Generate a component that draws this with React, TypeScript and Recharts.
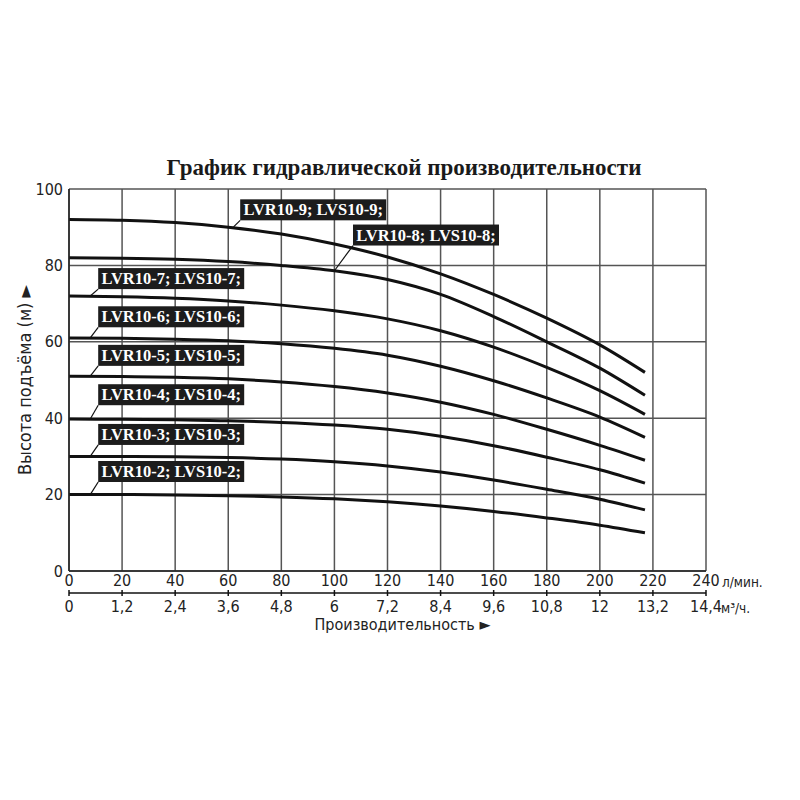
import { LineChart, Line, XAxis, YAxis, CartesianGrid, ReferenceLine, ReferenceDot } from 'recharts';

const SANS = "'Liberation Sans Narrow', 'DejaVu Sans Condensed', 'Liberation Sans', Arial, sans-serif";
const SERIF = "'Liberation Serif', 'DejaVu Serif', 'Times New Roman', serif";

// flow, l/min
const flow = [0, 20, 40, 60, 80, 100, 120, 140, 160, 180, 200, 217];

// head, m
const head9 = [92, 91.8, 91.2, 90, 88.2, 85.6, 82.2, 77.8, 72.4, 66.2, 59.2, 52];
const head8 = [82, 81.9, 81.6, 81.0, 80.0, 78.6, 76.3, 72.4, 66.6, 60.0, 53.1, 46];
const head7 = [72, 71.8, 71.4, 70.7, 69.6, 68.1, 66, 62.9, 58.6, 53.3, 47.2, 41];
const head6 = [61, 60.9, 60.7, 60.3, 59.5, 58.3, 56.5, 53.6, 49.8, 45.3, 40.3, 35];
const head5 = [51, 50.9, 50.7, 50.3, 49.5, 48.3, 46.6, 44.2, 41, 37.1, 32.9, 29];
const head4 = [39.8, 39.7, 39.6, 39.3, 38.9, 38.2, 37.1, 35.3, 32.8, 29.8, 26.5, 23];
const head3 = [30, 30, 29.9, 29.7, 29.3, 28.6, 27.5, 25.9, 23.8, 21.4, 18.8, 16];
const head2 = [20, 20, 19.9, 19.7, 19.4, 18.9, 18.1, 17, 15.6, 13.9, 12, 10];

const models = [
  'LVR10-9; LVS10-9;', 'LVR10-8; LVS10-8;', 'LVR10-7; LVS10-7;', 'LVR10-6; LVS10-6;',
  'LVR10-5; LVS10-5;', 'LVR10-4; LVS10-4;', 'LVR10-3; LVS10-3;', 'LVR10-2; LVS10-2;',
];
const seriesKeys = ['h9', 'h8', 'h7', 'h6', 'h5', 'h4', 'h3', 'h2'];

// tag bottom-left corner and leader start on the curve (data units)
const tagX = [64.5, 107, 11, 11, 11, 11, 11, 11];
const tagY = [91.8, 85.2, 73.8, 63.8, 53.7, 43.4, 33, 23.3];
const leaderX = [62, 100, 8, 8, 8, 8, 8, 8];
const leaderY = [90.1, 78.6, 72, 61, 51, 39.8, 30, 20];

const xTicks = [0, 20, 40, 60, 80, 100, 120, 140, 160, 180, 200, 220, 240];
const yTicks = [0, 20, 40, 60, 80, 100];

const heads = [head9, head8, head7, head6, head5, head4, head3, head2];
const rows = flow.map((q, i) => {
  const r: Record<string, number> = { q };
  seriesKeys.forEach((k, j) => { r[k] = heads[j][i]; });
  return r;
});

const m3 = (v: number) => String(Math.round(v * 0.6) / 10).replace('.', ',');

function LpmTick({ x, y, payload }: any) {
  return (
    <g>
      <text x={x} y={y} dy="0.71em" textAnchor="middle" fontFamily={SANS} fontSize={16} fill="#222">{payload.value}</text>
      {payload.value === 240 && (
        <text x={x + 16} y={y} dy="0.9em" fontFamily={SANS} fontSize={13.5} fill="#222">л/мин.</text>
      )}
    </g>
  );
}

function M3Tick({ x, y, payload }: any) {
  return (
    <g>
      <line x1={x} x2={x} y1={y - 11} y2={y - 5} stroke="#111" strokeWidth={1.5} />
      <text x={x} y={y} dy="0.71em" textAnchor="middle" fontFamily={SANS} fontSize={16} fill="#222">{m3(payload.value)}</text>
      {payload.value === 240 && (
        <text x={x + 15} y={y} dy="0.9em" fontFamily={SANS} fontSize={13.5} fill="#222">м³/ч.</text>
      )}
    </g>
  );
}

function ModelTag({ cx, cy, text }: { cx: number; cy: number; text: string }) {
  return (
    <g>
      <rect x={cx} y={cy - 21} width={146} height={21} fill="#1c1c1c" />
      <text x={cx + 73} y={cy - 5} textAnchor="middle" fill="#fff" fontFamily={SERIF} fontWeight="bold" fontSize={16.5}>{text}</text>
    </g>
  );
}

export default function App() {
  return (
    <div style={{ position: 'absolute', left: 0, top: 0, width: 800, height: 800, background: '#fff' }}>
      <div style={{ position: 'absolute', top: 154, left: 8, width: 792, textAlign: 'center', fontFamily: SERIF, fontWeight: 'bold', fontSize: 23, lineHeight: '28px', color: '#1a1a1a' }}>
        График гидравлической производительности
      </div>
      <LineChart width={800} height={800} data={rows} margin={{ top: 189, right: 94, bottom: 181, left: 29 }}>
        <CartesianGrid stroke="#555" strokeWidth={1.5} horizontalValues={yTicks} verticalValues={xTicks} />
        <XAxis dataKey="q" type="number" domain={[0, 240]} ticks={xTicks} height={22} tickSize={0} tickMargin={4}
          axisLine={{ stroke: '#222', strokeWidth: 1.5 }} tick={<LpmTick />} interval={0} />
        <XAxis xAxisId="m3" dataKey="q" type="number" domain={[0, 240]} ticks={xTicks} height={26} tickSize={0} tickMargin={8}
          axisLine={{ stroke: '#111', strokeWidth: 1.5 }} tick={<M3Tick />} interval={0}
          label={{ value: 'Производительность ►', position: 'bottom', offset: 0, dx: 15, fontFamily: SANS, fontSize: 16, fill: '#222' }} />
        <YAxis type="number" domain={[0, 100]} ticks={yTicks} width={40} tickSize={0} tickMargin={6}
          axisLine={{ stroke: '#222', strokeWidth: 1.5 }} tick={{ fontFamily: SANS, fontSize: 16, fill: '#222' }}
          label={{ value: 'Высота подъёма (м) ►', angle: -90, position: 'insideLeft', offset: -4, style: { textAnchor: 'middle' }, fontFamily: SANS, fontSize: 18, fill: '#222' }} />
        {seriesKeys.map((k) => (
          <Line key={k} type="monotone" dataKey={k} stroke="#111" strokeWidth={3} dot={false} isAnimationActive={false} />
        ))}
        {models.map((m, i) => (
          <ReferenceLine key={'l' + m} segment={[{ x: leaderX[i], y: leaderY[i] }, { x: tagX[i], y: tagY[i] }]}
            stroke="#111" strokeWidth={1.2} ifOverflow="visible" />
        ))}
        {models.map((m, i) => (
          <ReferenceDot key={'t' + m} x={tagX[i]} y={tagY[i]} r={0} ifOverflow="visible"
            shape={(p: any) => <ModelTag cx={p.cx} cy={p.cy} text={m} />} />
        ))}
      </LineChart>
    </div>
  );
}
